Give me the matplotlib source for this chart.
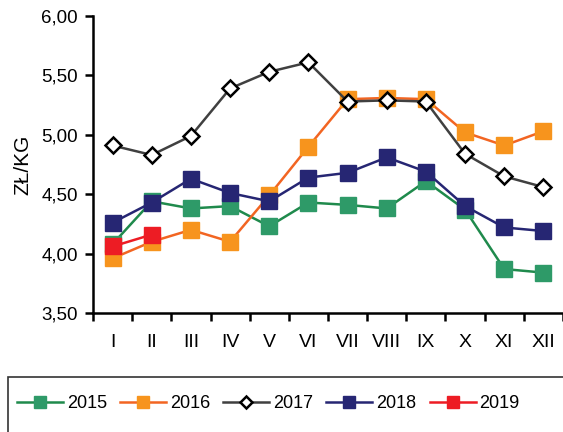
import matplotlib
matplotlib.use("Agg")
import matplotlib.pyplot as plt
from matplotlib.patches import Rectangle

plt.rcParams['font.family'] = ['Liberation Sans', 'DejaVu Sans']

months = ["I", "II", "III", "IV", "V", "VI", "VII", "VIII", "IX", "X", "XI", "XII"]
y2015 = [4.08, 4.44, 4.38, 4.40, 4.23, 4.43, 4.41, 4.38, 4.61, 4.37, 3.87, 3.84]
y2016 = [3.96, 4.10, 4.20, 4.10, 4.49, 4.90, 5.30, 5.31, 5.30, 5.02, 4.91, 5.03]
y2017 = [4.91, 4.83, 4.99, 5.39, 5.53, 5.61, 5.28, 5.29, 5.28, 4.84, 4.65, 4.56]
y2018 = [4.26, 4.43, 4.63, 4.51, 4.44, 4.64, 4.68, 4.81, 4.69, 4.40, 4.22, 4.19]
y2019 = [4.06, 4.16]
yticks = [3.50, 4.00, 4.50, 5.00, 5.50, 6.00]

fig = plt.figure(figsize=(5.63, 4.32), dpi=100)
ax = fig.add_axes([93/563, 1-313/432, 1-93/563, (313-16)/432])

x = list(range(len(months)))
series = [
    ("2015", y2015, "#1f8a4c", dict(marker="s", mfc="#2e9a68", mec="#2e9a68", ms=11.5)),
    ("2016", y2016, "#f26522", dict(marker="s", mfc="#f7941d", mec="#f7941d", ms=11.5)),
    ("2017", y2017, "#404040", dict(marker="D", mfc="white", mec="black", mew=1.8, ms=8)),
    ("2018", y2018, "#262673", dict(marker="s", mfc="#262673", mec="#262673", ms=11.5)),
    ("2019", y2019, "#ed1c24", dict(marker="s", mfc="#ed1c24", mec="#ed1c24", ms=11.5)),
]
handles = []
for name, vals, col, mk in series:
    h, = ax.plot(x[:len(vals)], vals, color=col, lw=1.8, label=name, **mk)
    handles.append(h)

ax.set_xlim(-0.5, 11.5)
ax.set_ylim(3.5, 6.0)
ax.set_yticks(yticks)
ax.set_yticklabels([f"{v:.2f}".replace(".", ",") for v in yticks], fontsize=13.5)
ax.set_xticks(x)
ax.set_xticklabels(months, fontsize=14)
ax.set_xticks([i - 0.5 for i in range(13)], minor=True)
ax.tick_params(axis="x", which="major", length=0, pad=15)
ax.tick_params(axis="x", which="minor", length=6, width=1.8, direction="out")
ax.tick_params(axis="y", length=6, width=1.8, direction="out", pad=5)
for s in ("top", "right"):
    ax.spines[s].set_visible(False)
for s in ("left", "bottom"):
    ax.spines[s].set_linewidth(1.8)
ax.set_ylabel("ZŁ/KG", fontsize=15, labelpad=6)

fig.patches.append(Rectangle((8/563, -0.2), 1.0, 0.2 + 1 - 377/432,
                             transform=fig.transFigure, fill=False,
                             edgecolor="#333333", lw=1.2))
fig.legend(handles=handles, loc="center left", bbox_to_anchor=(17/563, 1-404/432),
           ncol=5, frameon=False, fontsize=13, handlelength=2.55,
           handletextpad=0.22, columnspacing=0.72, markerscale=0.75,
           borderaxespad=0, borderpad=0)

fig.savefig("out.png", dpi=100)
